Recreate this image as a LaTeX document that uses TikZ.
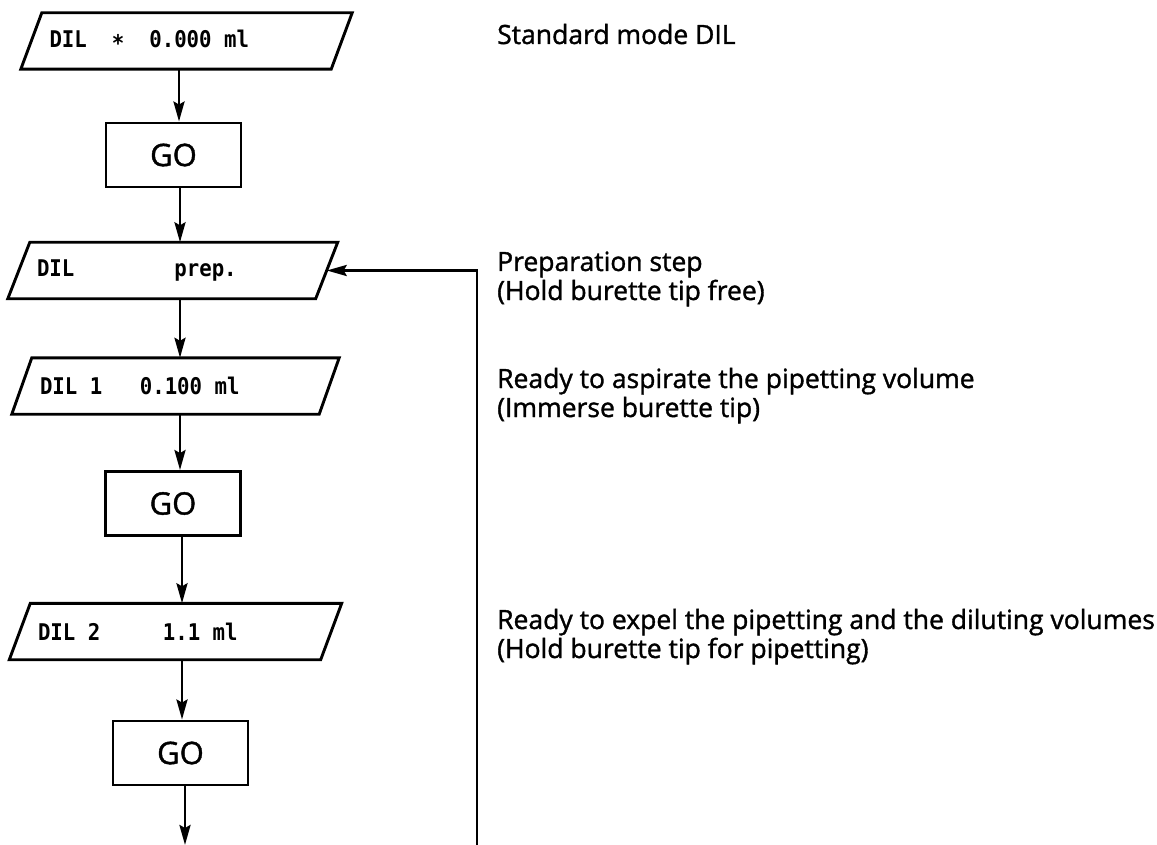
\documentclass[tikz,border=0pt]{standalone}
\usepackage{fontspec}
\setmainfont{Open Sans}[FakeBold=1.3]
\newfontfamily\dispfont{DejaVu Sans Mono}[FakeStretch=0.9]
\usetikzlibrary{arrows.meta,calc}
\newcommand\dsp{\hspace*{12.5pt}}
\newcommand\drawpgram[2]{%
  \draw[pgram] ($(#1.north west)+(#2,0)$) -- ($(#1.north east)+(#2,0)$)
    -- ($(#1.south east)+(-#2,0)$) -- ($(#1.south west)+(-#2,0)$) -- cycle;}
\begin{document}
\begin{tikzpicture}[x=1pt,y=-1pt,
  pgram/.style={draw=black, line width=2.9pt, line join=miter},
  disp/.style={inner xsep=18pt, inner ysep=0pt, text width=#1, align=left,
    minimum height=56pt, font=\fontsize{23}{24}\selectfont\dispfont\bfseries},
  gobox/.style={draw=black, line width=2.9pt, inner sep=0pt, minimum width=135pt,
    minimum height=64pt, font=\fontsize{31}{32}\selectfont},
  arr/.style={line width=2.8pt, -{Stealth[length=20pt,width=11pt,inset=3pt]}},
  note/.style={anchor=base west, inner sep=0pt, font=\fontsize{26.5}{30}\selectfont}]
\fill[white] (0,0) rectangle (1157,845);
\useasboundingbox (0,0) rectangle (1157,845);
% display steps
\node[disp=274pt] (p1) at (186.5,41) {DIL\dsp\dsp\raisebox{-4pt}{*}\dsp\dsp0.000\dsp ml};
\node[disp=271.5pt] (p2) at (172.75,270.5) {DIL\dsp\dsp\dsp\dsp\dsp\dsp\dsp\dsp prep.};
\node[disp=271pt] (p3) at (175.5,386) {DIL\dsp1\dsp\dsp\dsp0.100\dsp ml};
\node[disp=275pt] (p4) at (175.5,631.5) {DIL\dsp2\dsp\dsp\dsp\dsp\dsp1.1\dsp ml};
\drawpgram{p1}{10.5}
\drawpgram{p2}{11}
\drawpgram{p3}{10}
\drawpgram{p4}{10.5}
% GO keys
\node[gobox] (g1) at (173.5,155) {GO};
\node[gobox] (g2) at (173,503.5) {GO};
\node[gobox] (g3) at (180.5,753) {GO};
% arrow columns
\coordinate (c1) at (179,0);
\coordinate (c2) at (180,0);
\coordinate (c3) at (180,0);
\coordinate (c4) at (180,0);
\coordinate (c5) at (182,0);
\coordinate (c6) at (182,0);
\coordinate (c7) at (185,0);
\coordinate (bot) at (185,845);
\coordinate (fb) at (477,845);
\draw[arr] (p1.south -| c1) -- (g1.north -| c1);
\draw[arr] (g1.south -| c2) -- (p2.north -| c2);
\draw[arr] (p2.south -| c3) -- (p3.north -| c3);
\draw[arr] (p3.south -| c4) -- (g2.north -| c4);
\draw[arr] (g2.south -| c5) -- (p4.north -| c5);
\draw[arr] (p4.south -| c6) -- (g3.north -| c6);
\draw[arr] (g3.south -| c7) -- (bot);
\draw[arr] (fb) |- (p2.east);
% explanations
\node[note] (t1) at (497,44) {Standard mode DIL};
\node[note] (t2) at (497,271) {Preparation step};
\node[note] (t3) at (497,300) {(Hold burette tip free)};
\node[note] (t4) at (497,388) {Ready to aspirate the pipetting volume};
\node[note] (t5) at (497,417) {(Immerse burette tip)};
\node[note] (t6) at (497,629) {Ready to expel the pipetting and the diluting volumes};
\node[note] (t7) at (497,658) {(Hold burette tip for pipetting)};
\end{tikzpicture}
\end{document}
